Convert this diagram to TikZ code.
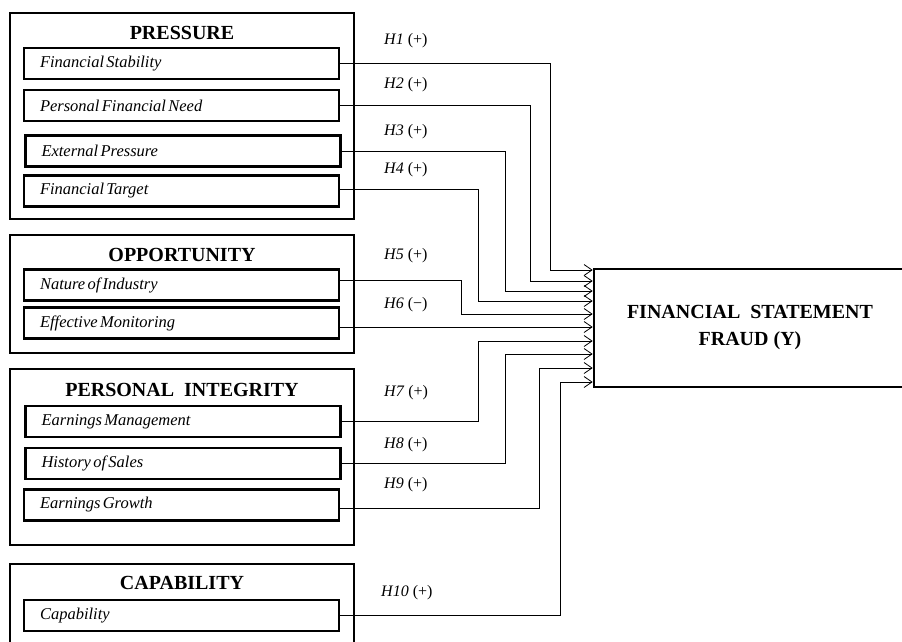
\documentclass[tikz,border=0pt]{standalone}
\usepackage{fontspec}
\setmainfont{Liberation Serif}
\usetikzlibrary{arrows.meta,calc}
\DeclareRobustCommand{\tightsp}{\spaceskip=0.14em plus 0.02em\relax}
\begin{document}
\begin{tikzpicture}[x=1pt,y=-1pt,
  grp/.style={draw,line width=2pt,inner sep=0pt,minimum width=344pt},
  item/.style={draw,line width=2.4pt,minimum width=315pt,minimum height=31pt,
    text width=283pt,inner xsep=16pt,inner ysep=0pt,align=left,
    font=\itshape\fontsize{16.5}{18}\selectfont,execute at begin node=\tightsp},
  ttl/.style={font=\bfseries\fontsize{20}{22}\selectfont,inner sep=0pt},
  hl/.style={anchor=west,inner sep=0pt,font=\fontsize{16}{18}\selectfont},
  conn/.style={line width=0.9pt,-{Straight Barb[length=8pt,width=11pt,line width=0.8pt]}}
]
\useasboundingbox (0,0) rectangle (902,642);

% group boxes
\node[grp,minimum height=206pt] (gP) at (182,116) {};
\node[grp,minimum height=118pt] (gO) at (182,294) {};
\node[grp,minimum height=176pt] (gI) at (182,457) {};
\node[grp,minimum height=96pt]  (gC) at (182,612) {};

% titles
\node[ttl] (tP) at (182,33) {PRESSURE};
\node[ttl] (tO) at (182,255) {OPPORTUNITY};
\node[ttl] (tI) at (182,390) {PERSONAL~~INTEGRITY};
\node[ttl] (tC) at (182,583) {CAPABILITY};

% items
\node[item] (fs)   at (181.5,63.5)  {Financial Stability};
\node[item] (pfn)  at (181.5,105.5) {Personal Financial Need};
\node[item] (ep)   at (183,151)     {External Pressure};
\node[item] (ft)   at (181.5,191)   {Financial Target};
\node[item] (ni)   at (181.5,285)   {Nature of Industry};
\node[item] (emon) at (181.5,323)   {Effective Monitoring};
\node[item] (earm) at (183,421.5)   {Earnings Management};
\node[item] (hs)   at (183,463.5)   {History of Sales};
\node[item] (eg)   at (181.5,505)   {Earnings Growth};
\node[item] (cap)  at (181.5,615.5) {Capability};

% target
\node[draw,line width=2.6pt,minimum width=312pt,minimum height=118pt,align=center,
  font=\bfseries\fontsize{20}{27}\selectfont] (tgt) at (750,328)
  {FINANCIAL~~STATEMENT\\FRAUD (Y)};

\foreach \i/\yy in {1/270,2/281,3/291,4/301,5/314,6/327,7/341,8/354,9/368,10/382}
  \coordinate (t\i) at (tgt.west |- 0,\yy);

% connectors
\draw[conn] (fs.east) -| (550,270) -- (t1);
\draw[conn] (pfn.east) -| (530,281) -- (t2);
\draw[conn] (ep.east) -| (505,291) -- (t3);
\draw[conn] ([yshift=2pt]ft.east) -| (478,301) -- (t4);
\draw[conn] ([yshift=5pt]ni.east) -| (461,314) -- (t5);
\draw[conn] ([yshift=-4pt]emon.east) -- (t6);
\draw[conn] (earm.east) -| (478,341) -- (t7);
\draw[conn] (hs.east) -| (505,354) -- (t8);
\draw[conn] ([yshift=-3pt]eg.east) -| (539,368) -- (t9);
\draw[conn] (cap.east) -| (560,382) -- (t10);

% hypothesis labels
\node[hl] (h1) at (384,41)  {\textit{H1} (+)};
\node[hl] (h2) at (384,85)  {\textit{H2} (+)};
\node[hl] (h3) at (384,132) {\textit{H3} (+)};
\node[hl] (h4) at (384,170) {\textit{H4} (+)};
\node[hl] (h5) at (384,256) {\textit{H5} (+)};
\node[hl] (h6) at (384,305) {\textit{H6} (−)};
\node[hl] (h7) at (384,393) {\textit{H7} (+)};
\node[hl] (h8) at (384,445) {\textit{H8} (+)};
\node[hl] (h9) at (384,485) {\textit{H9} (+)};
\node[hl] (h10) at (381,593) {\textit{H10} (+)};
\end{tikzpicture}
\end{document}
